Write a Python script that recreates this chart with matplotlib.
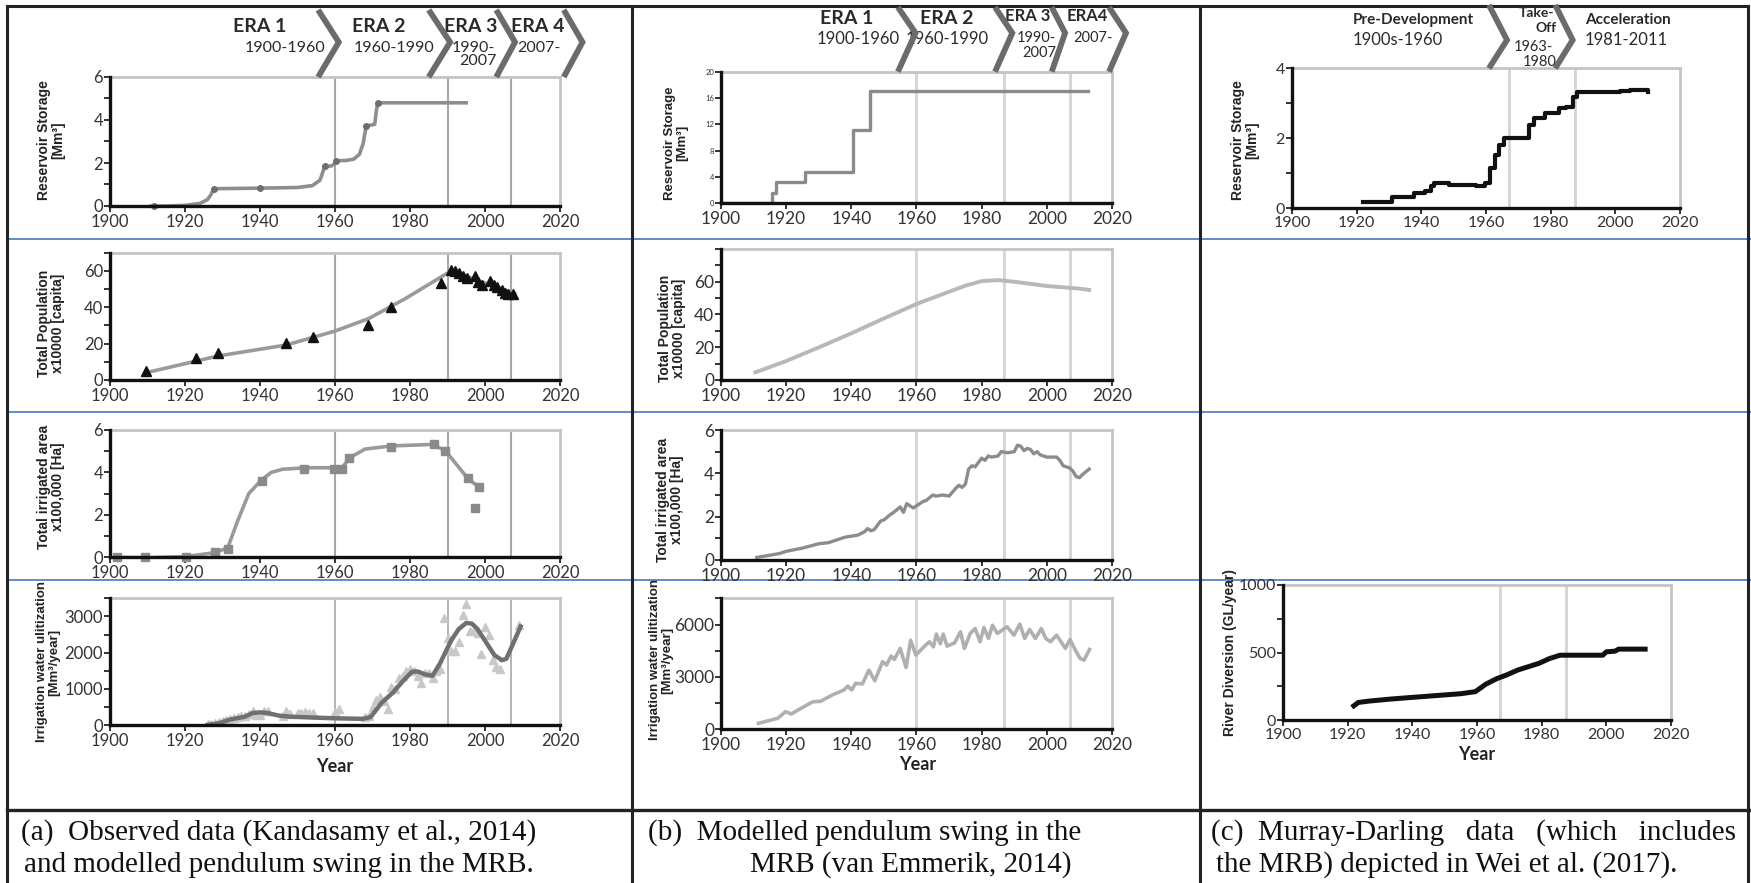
import matplotlib
matplotlib.use("Agg")
import matplotlib.pyplot as plt
import matplotlib.transforms as mtransforms
from matplotlib.ticker import MultipleLocator

plt.rcParams['font.family'] = ['Lato', 'DejaVu Sans']

# ---- panel (a): observed data and fitted pendulum swing ----
res_a_line_years = [1911, 1915, 1920, 1924, 1926, 1927, 1927.6, 1930, 1940, 1950, 1954, 1956,
                    1956.8, 1957.2, 1959, 1959.8, 1960.3, 1963, 1965, 1966.5, 1967.5, 1968.3,
                    1970.6, 1971, 1971.4, 1995]
res_a_line_vals = [0, 0, 0.03, 0.12, 0.3, 0.55, 0.8, 0.81, 0.83, 0.86, 0.95, 1.2,
                   1.6, 1.85, 1.86, 1.95, 2.1, 2.12, 2.18, 2.4, 2.9, 3.72,
                   3.8, 4.4, 4.8, 4.8]
res_a_pt_years = [1911.7, 1927.8, 1940.1, 1957.2, 1960.3, 1968.3, 1971.4]
res_a_pt_vals = [0, 0.8, 0.83, 1.87, 2.08, 3.72, 4.8]

pop_a_years = [1909.7, 1922.9, 1928.8, 1946.9, 1954.0, 1968.9, 1975.0, 1988.2, 1990.9, 1992.1,
               1993.1, 1994.2, 1995.2, 1997.2, 1998.2, 1999.3, 2001.3, 2002.3, 2003.3, 2004.4,
               2005.4, 2006.2, 2007.4]
pop_a_vals = [4.9, 11.9, 14.6, 20.1, 23.8, 30.5, 40.2, 53.6, 60.7, 60.0,
              59.0, 57.0, 56.0, 57.0, 54.0, 52.0, 54.5, 52.5, 51.0, 49.5,
              48.0, 47.5, 47.5]
pop_a_fit_years = [1910, 1928.8, 1946.9, 1960, 1969, 1978.8, 1990.8, 1995.5, 2000.4, 2007.9]
pop_a_fit_vals = [4.2, 13.2, 19.2, 26.9, 33.8, 44.8, 59.8, 56.7, 53.0, 47.5]

irr_a_years = [1901.8, 1909.3, 1920.2, 1928.1, 1931.4, 1940.4, 1951.8, 1959.8, 1961.8, 1963.8,
               1974.8, 1986.3, 1989.4, 1995.4, 1998.4, 1997.4]
irr_a_vals = [0, 0, 0.03, 0.24, 0.4, 3.61, 4.16, 4.16, 4.16, 4.7,
              5.21, 5.32, 5.03, 3.72, 3.3, 2.34]
irr_a_fit_years = [1901.8, 1910, 1920, 1928, 1931.4, 1934, 1937, 1940.4, 1943, 1946, 1952, 1960,
                   1962, 1964, 1968, 1975, 1986, 1989.4, 1995.4, 1998.4]
irr_a_fit_vals = [0, -0.02, 0.03, 0.22, 0.45, 1.7, 3.0, 3.65, 4.0, 4.15, 4.22, 4.22,
                  4.25, 4.7, 5.1, 5.25, 5.32, 5.03, 3.72, 3.3]

use_a_years = [1926, 1927, 1928, 1929, 1930, 1931, 1932, 1933, 1934, 1935, 1936, 1937, 1938, 1939,
               1940, 1941, 1942, 1946, 1947, 1948, 1950, 1951, 1952, 1953, 1954, 1960, 1961, 1968,
               1969, 1970, 1971, 1972, 1973, 1974, 1975, 1976, 1977, 1978, 1979, 1980, 1981, 1982,
               1983, 1984, 1985, 1986, 1987, 1988, 1989, 1990, 1991, 1992, 1993, 1994, 1995, 1996,
               1997, 1998, 1999, 2000, 2001, 2002, 2003, 2004, 2009]
use_a_vals = [20, 40, 60, 80, 110, 130, 160, 190, 220, 250, 250, 300, 380, 290,
              270, 400, 390, 260, 400, 300, 330, 340, 350, 320, 330, 360, 430, 220,
              260, 500, 700, 780, 650, 450, 1050, 1000, 1300, 1350, 1500, 1550, 1500, 1350,
              1150, 1450, 1450, 1300, 1500, 1550, 2950, 2400, 2050, 2050, 2300, 3050, 3350, 2600,
              2600, 2550, 1950, 2700, 2500, 1800, 1600, 1550, 2750]
use_a_fit_years = [1926, 1929, 1932, 1936, 1938, 1940, 1942, 1945, 1948, 1953, 1960, 1967.5,
                   1969.5, 1972.5, 1975.5, 1978, 1980.5, 1982, 1984, 1986, 1988, 1991, 1993,
                   1995, 1996.5, 1998, 2000.5, 2002.5, 2004.5, 2005.7, 2007.5, 2009.5]
use_a_fit_vals = [0, 50, 150, 230, 330, 350, 330, 260, 230, 210, 185, 170,
                  220, 620, 900, 1200, 1470, 1480, 1400, 1360, 1700, 2340, 2650,
                  2820, 2800, 2650, 2250, 1930, 1790, 1830, 2250, 2720]

# ---- panel (b): modelled pendulum swing ----
res_b_years = [1900, 1915.6, 1916.8, 1925.7, 1940.6, 1945.7, 2012.7]
res_b_vals = [0, 1.6, 3.2, 4.8, 11.1, 17.1, 17.1]

pop_b_years = [1910.6, 1920, 1930, 1940, 1950, 1960, 1970, 1975, 1980, 1985, 1990, 2000, 2010, 2013]
pop_b_vals = [4.7, 11.6, 19.9, 28.5, 37.6, 46.4, 53.9, 57.6, 60.4, 61.0, 60.0, 57.4, 55.8, 55.0]

irr_b_years = [1911, 1915, 1918, 1920, 1925, 1930, 1933, 1936, 1938, 1940, 1942, 1944, 1945, 1946,
               1947, 1949, 1950, 1952, 1953, 1955, 1956, 1957, 1958, 1959, 1960, 1962, 1963, 1965,
               1966, 1968, 1970, 1972, 1973, 1974, 1975, 1976, 1977, 1978, 1980, 1981, 1982, 1983,
               1985, 1986, 1988, 1990, 1991, 1992, 1993, 1994, 1995, 1996, 1997, 1998, 1999, 2000,
               2003, 2004, 2005, 2006, 2007, 2008, 2009, 2010, 2011, 2013]
irr_b_vals = [0.12, 0.22, 0.3, 0.4, 0.55, 0.75, 0.8, 0.95, 1.05, 1.1, 1.15, 1.3, 1.45, 1.35,
              1.4, 1.8, 1.85, 2.1, 2.2, 2.45, 2.2, 2.6, 2.5, 2.4, 2.5, 2.7, 2.75, 3.0,
              2.95, 3.0, 2.95, 3.3, 3.45, 3.35, 3.5, 4.2, 4.35, 4.3, 4.7, 4.6, 4.8, 4.75,
              4.8, 5.0, 4.95, 5.0, 5.3, 5.25, 5.05, 5.15, 5.1, 4.9, 5.0, 4.85, 4.8, 4.75,
              4.75, 4.6, 4.35, 4.3, 4.25, 4.1, 3.85, 3.8, 3.95, 4.2]

use_b_years = [1911.5, 1917.4, 1919.8, 1921.6, 1924.0, 1926.4, 1928.2, 1930.5, 1934.1, 1937.7,
               1938.9, 1940.1, 1941.3, 1943.4, 1945.4, 1947.2, 1949.6, 1950.8, 1952.2, 1953.2,
               1955.0, 1956.8, 1958.2, 1959.8, 1962.8, 1964.0, 1965.2, 1966.1, 1967.3, 1968.2,
               1969.4, 1971.7, 1973.5, 1974.7, 1976.5, 1978.0, 1979.5, 1980.7, 1982.1, 1983.3,
               1984.8, 1987.8, 1989.9, 1991.7, 1993.2, 1994.7, 1996.5, 1998.3, 1999.7, 2001.1,
               2003.0, 2005.7, 2007.1, 2008.9, 2010.2, 2011.4, 2013.1]
use_b_vals = [343, 630, 1010, 876, 1143, 1390, 1580, 1600, 1960, 2250,
              2476, 2250, 2630, 2600, 3390, 2780, 3870, 3680, 4190, 4000,
              4630, 3540, 5100, 4250, 4820, 5010, 4720, 5450, 4900, 5450,
              4760, 4950, 5580, 4630, 5490, 5770, 5010, 5830, 5200, 5960,
              5490, 5870, 5390, 6020, 5200, 5710, 5200, 5770, 5200, 5010,
              5390, 4630, 5140, 4480, 4060, 3960, 4570]

# ---- panel (c): Murray-Darling data ----
res_c_years = [1922.0, 1926, 1929.8, 1931, 1936, 1937.6, 1941, 1943, 1944, 1948.6, 1957, 1959.6,
               1961.2, 1962.9, 1964, 1965.6, 1971.6, 1973.3, 1975, 1978.2, 1981.5, 1982.6, 1984.8,
               1987, 1988.1, 1995.8, 2001.3, 2004.6, 2006.8, 2010.1]
res_c_vals = [0.19, 0.17, 0.17, 0.31, 0.31, 0.45, 0.5, 0.65, 0.71, 0.67, 0.65, 0.71,
              1.14, 1.52, 1.81, 2.0, 2.02, 2.38, 2.57, 2.71, 2.71, 2.88, 2.9,
              3.19, 3.31, 3.33, 3.36, 3.38, 3.37, 3.31]

div_c_years = [1921.9, 1923.3, 1926.6, 1933.2, 1938.6, 1944.1, 1949.6, 1955.1, 1959.5, 1962.7,
               1966, 1969.3, 1972.6, 1975.9, 1979.2, 1982.4, 1985.7, 1986.8, 1993.4, 1998.9,
               2000, 2002.7, 2003.8, 2012]
div_c_vals = [105, 130, 140, 155, 165, 175, 185, 195, 210, 265,
              305, 335, 370, 395, 420, 455, 480, 480, 480, 480,
              505, 510, 525, 525]

eras_a = [1960, 1990, 2007]
eras_b = [1960, 1987, 2007]
eras_c = [1967, 1987.5]

captions = [
    ("(a)  Observed data (Kandasamy et al., 2014)", "and modelled pendulum swing in the MRB."),
    ("(b)  Modelled pendulum swing in the", "MRB (van Emmerik, 2014)"),
    ("(c)  Murray-Darling   data   (which   includes", "the MRB) depicted in Wei et al. (2017)."),
]

W, H = 1751, 883
fig = plt.figure(figsize=(W / 100, H / 100), dpi=100)

# page-level overlay in pixel units for the table grid and loose text
ov = fig.add_axes([0, 0, 1, 1])
ov.set_xlim(0, W)
ov.set_ylim(H, 0)
ov.axis('off')

dark = '#222222'
for y in (238.5, 411.5, 580):
    ov.plot([7, W], [y, y], color='#4a74c4', lw=1.2)
ov.plot([7, W - 3], [6, 6], color=dark, lw=2.2)
ov.plot([7, 7], [6, H], color=dark, lw=2.2)
ov.plot([W - 3, W - 3], [6, H], color=dark, lw=2.2)
ov.plot([7, W], [810, 810], color=dark, lw=2.4)
for x in (632, 1200):
    ov.plot([x, x], [6, H], color=dark, lw=2.2)


def box(x0, x1, ytop, ybot):
    return [x0 / W, 1 - ybot / H, (x1 - x0) / W, (ybot - ytop) / H]


def panel(rect, ymax, major, minor, eras, grid_color, grid_lw, tsize, ytsize=None):
    ax = fig.add_axes(rect)
    ax.set_facecolor('none')
    ax.set_xlim(1900, 2020)
    ax.set_ylim(0, ymax)
    ax.xaxis.set_major_locator(MultipleLocator(20))
    ax.yaxis.set_major_locator(MultipleLocator(major))
    ax.yaxis.set_minor_locator(MultipleLocator(minor))
    for s in ('top', 'right'):
        ax.spines[s].set_color('#c4c4c4')
        ax.spines[s].set_linewidth(2)
    for s in ('left', 'bottom'):
        ax.spines[s].set_color('#111111')
        ax.spines[s].set_linewidth(2.4)
        ax.spines[s].set_zorder(4)
    ax.tick_params(axis='x', which='major', length=4, width=1.2, labelsize=tsize,
                   pad=1.5, colors='#111111', labelcolor='#333333')
    ax.tick_params(axis='y', which='major', length=4, width=1.2,
                   labelsize=ytsize or tsize, pad=1, colors='#111111', labelcolor='#333333')
    ax.tick_params(axis='y', which='minor', length=4, width=1.2, colors='#111111')
    for yr in eras:
        ax.axvline(yr, color=grid_color, lw=grid_lw, zorder=1)
    return ax


def chevron(ax, x_base, x_tip, y_tip, y_top):
    tr = mtransforms.blended_transform_factory(ax.transData, ax.transAxes)
    ax.plot([x_base, x_tip, x_base], [y_top, y_tip, 1.0], transform=tr, color='#6b6b6b',
            lw=4.2, clip_on=False, solid_joinstyle='miter', solid_capstyle='butt', zorder=5)


def ylabel(x, y, text, size):
    ov.text(x, y, text, rotation=90, ha='center', va='center', fontsize=size,
            fontweight='bold', family=['Liberation Sans', 'DejaVu Sans'],
            color='#222222', linespacing=1.0)


def year_label(x, y):
    ov.text(x, y, 'Year', ha='center', va='center', fontsize=13, fontweight='bold',
            color='#222222')


# ---------- column (a) ----------
ax = panel(box(110, 560, 77, 206), 6, 2, 1, eras_a, '#a8a8a8', 1.5, 12)
ax.plot(res_a_line_years, res_a_line_vals, color='#8e8e8e', lw=2.6, zorder=3)
ax.plot(res_a_pt_years, res_a_pt_vals, 'o', color='#6e6e6e', ms=4, zorder=3, clip_on=False)
for xb, xt in ((1955.5, 1961), (1985, 1990.7), (2003, 2008), (2021, 2026)):
    chevron(ax, xb, xt, 1.27, 1.52)
ylabel(51, 140, 'Reservoir Storage\n[Mm³]', 10)

ax = panel(box(110, 560, 252.7, 380), 70, 20, 10, eras_a, '#a8a8a8', 1.5, 12)
ax.plot(pop_a_fit_years, pop_a_fit_vals, color='#9a9a9a', lw=2.6, zorder=3)
ax.plot(pop_a_years, pop_a_vals, '^', color='#111111', ms=6.5, zorder=3)
ylabel(51, 323, 'Total Population\nx10000 [capita]', 10)

ax = panel(box(110, 560, 430, 557.3), 6, 2, 1, eras_a, '#a8a8a8', 1.5, 12)
ax.plot(irr_a_fit_years, irr_a_fit_vals, color='#9a9a9a', lw=2.6, zorder=3)
ax.plot(irr_a_years, irr_a_vals, 's', color='#8a8a8a', ms=5.5, zorder=3, clip_on=False)
ylabel(51, 487, 'Total irrigated area\nx100,000 [Ha]', 10)

ax = panel(box(110, 560, 598.3, 725), 3500, 1000, 500, eras_a, '#a8a8a8', 1.2, 12)
ax.plot(use_a_years, use_a_vals, '^', color='#c8c8c8', ms=6, zorder=2)
ax.plot(use_a_fit_years, use_a_fit_vals, color='#707070', lw=3.2, zorder=3)
ylabel(48, 662, 'Irrigation water ulitization\n[Mm³/year]', 9.5)
year_label(335, 767)

# ---------- column (b) ----------
ax = panel(box(721, 1112, 71.7, 203.3), 20, 4, 4, eras_b, '#d4d4d4', 2, 12.5, ytsize=5.5)
ax.step(res_b_years, res_b_vals, where='post', color='#8a8a8a', lw=2.4, zorder=3)
for xb, xt in ((1954.3, 1959.7), (1984.1, 1989.4), (2001.5, 2005.6), (2019.1, 2024.3)):
    chevron(ax, xb, xt, 1.294, 1.49)
ylabel(676, 143, 'Reservoir Storage\n[Mm³]', 9.5)

ax = panel(box(721, 1112, 249, 380), 80, 20, 10, eras_b, '#d4d4d4', 2, 12.5)
ax.set_yticks([0, 20, 40, 60])
ax.plot(pop_b_years, pop_b_vals, color='#b8b8b8', lw=2.8, zorder=3)
ylabel(672, 328, 'Total Population\nx10000 [capita]', 10)

ax = panel(box(721, 1112, 430, 560), 6, 2, 1, eras_b, '#d4d4d4', 2, 12.5)
ax.plot(irr_b_years, irr_b_vals, color='#8c8c8c', lw=2.4, zorder=3)
ylabel(670, 500, 'Total irrigated area\nx100,000 [Ha]', 10)

ax = panel(box(721, 1112, 598.3, 729.3), 7500, 3000, 1500, eras_b, '#d4d4d4', 2, 12.5)
ax.plot(use_b_years, use_b_vals, color='#b0b0b0', lw=2.6, zorder=3)
ylabel(661, 660, 'Irrigation water ulitization\n[Mm³/year]', 9.5)
year_label(918, 765)

# ---------- column (c) ----------
ax = panel(box(1292, 1680, 68.3, 208.3), 4, 2, 1, eras_c, '#d4d4d4', 2, 11.5)
ax.plot(res_c_years, res_c_vals, color='#111111', lw=3, zorder=3, drawstyle='steps-post')
for xb, xt in ((1960.9, 1966.5), (1981.4, 1986.8)):
    chevron(ax, xb, xt, 1.202, 1.452)
ylabel(1245, 140, 'Reservoir Storage\n[Mm³]', 10)

ax = panel(box(1283, 1671, 585, 720), 1000, 500, 250, eras_c, '#d4d4d4', 2, 11.5)
ax.plot(div_c_years, div_c_vals, color='#111111', lw=3.6, zorder=3)
ylabel(1230, 653, 'River Diversion (GL/year)', 10)
year_label(1477, 755)

# ---------- era headers ----------
hdr = dict(color='#2a2a2a', va='center')
for txt, x in (('ERA 1', 233), ('ERA 2', 352), ('ERA 3', 444), ('ERA 4', 511)):
    ov.text(x, 27, txt, fontsize=14, fontweight='bold', **hdr)
for txt, x in (('1900-1960', 245), ('1960-1990', 354), ('1990-', 452), ('2007-', 517)):
    ov.text(x, 48, txt, fontsize=11.5, **hdr)
ov.text(459, 61, '2007', fontsize=11.5, **hdr)

for txt, x in (('ERA 1', 820), ('ERA 2', 920)):
    ov.text(x, 19, txt, fontsize=14, fontweight='bold', **hdr)
for txt, x in (('ERA 3', 1005), ('ERA4', 1067)):
    ov.text(x, 16, txt, fontsize=12, fontweight='bold', **hdr)
for txt, x in (('1900-1960', 817), ('1960-1990', 906)):
    ov.text(x, 39, txt, fontsize=12, **hdr)
ov.text(1017, 38, '1990-', fontsize=10.5, **hdr)
ov.text(1022, 53, '2007', fontsize=10.5, **hdr)
ov.text(1073, 38, '2007-', fontsize=10.5, **hdr)

ov.text(1353, 20, 'Pre-Development', fontsize=11, fontweight='bold', **hdr)
ov.text(1353, 40, '1900s-1960', fontsize=12, **hdr)
ov.text(1519, 13, 'Take-', fontsize=10, fontweight='bold', **hdr)
ov.text(1535, 28, 'Off', fontsize=10, fontweight='bold', **hdr)
ov.text(1514, 47, '1963-', fontsize=10.5, **hdr)
ov.text(1523, 62, '1980', fontsize=10.5, **hdr)
ov.text(1585, 20, 'Acceleration', fontsize=11, fontweight='bold', **hdr)
ov.text(1585, 40, '1981-2011', fontsize=12, **hdr)

# ---------- captions ----------
cap = dict(fontsize=21, family=['Liberation Serif', 'DejaVu Serif'], color='#111111', va='center')
ov.text(21, 833, captions[0][0], **cap)
ov.text(24, 865, captions[0][1], **cap)
ov.text(648, 833, captions[1][0], **cap)
ov.text(750, 865, captions[1][1], **cap)
ov.text(1211, 833, captions[2][0], **cap)
ov.text(1216, 865, captions[2][1], **cap)

fig.savefig('out.png', dpi=100)
